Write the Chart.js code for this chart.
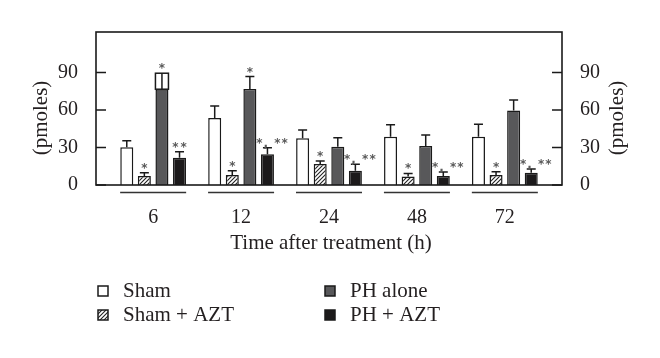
<!DOCTYPE html>
<html><head><meta charset="utf-8">
<script src="https://cdn.jsdelivr.net/npm/chart.js@4"></script>
<style>html,body{margin:0;padding:0;background:#fff}</style>
</head><body>
<canvas id="c" width="660" height="358"></canvas>
<script>
// ---- data ----
const categories = ['6', '12', '24', '48', '72'];
const seriesNames = ['Sham', 'Sham + AZT', 'PH alone', 'PH + AZT'];
const sham      = [30.2, 53.7, 37.4, 38.7, 38.7];
const shamErr   = [5.3, 9.6, 6.7, 9.6, 9.9];
const shamAzt   = [7.2, 8.0, 16.8, 6.9, 8.0];
const shamAztErr= [2.7, 3.5, 2.4, 2.4, 2.7];
const phAlone   = [76.7, 76.9, 30.7, 31.3, 59.6];
const phAloneErr= [12.8, 9.9, 7.2, 8.8, 8.5];
const phAzt     = [21.9, 24.6, 11.5, 7.2, 9.9];
const phAztErr  = [4.8, 5.3, 5.1, 3.2, 2.9];
const shamStars    = ['', '', '', '', ''];
const shamAztStars = ['*', '*', '*', '*', '*'];
const phAloneStars = ['*', '*', '', '', ''];
const phAztStars   = ['**', '*, **', '*, **', '*, **', '*, **'];
const phAloneBoxedErr = [true, false, false, false, false];
const yTicks = [0, 30, 60, 90];
const yTitle = '(pmoles)';
const xTitle = 'Time after treatment (h)';

const FONT = '"Liberation Serif", "Times New Roman", serif';
const TXT = '#231f20';

function hatchPattern() {
  const c = document.createElement('canvas');
  c.width = 4; c.height = 4;
  const g = c.getContext('2d');
  g.fillStyle = '#fff'; g.fillRect(0, 0, 4, 4);
  g.strokeStyle = '#222'; g.lineWidth = 1.1;
  g.beginPath();
  g.moveTo(0, 4); g.lineTo(4, 0);
  g.moveTo(-1, 1); g.lineTo(1, -1);
  g.moveTo(3, 5); g.lineTo(5, 3);
  g.stroke();
  return g.createPattern(c, 'repeat');
}
const hatch = hatchPattern();

const series = [
  { name: seriesNames[0], vals: sham,    err: shamErr,    stars: shamStars,    fill: '#ffffff' },
  { name: seriesNames[1], vals: shamAzt, err: shamAztErr, stars: shamAztStars, fill: hatch },
  { name: seriesNames[2], vals: phAlone, err: phAloneErr, stars: phAloneStars, fill: '#58585a', boxed: phAloneBoxedErr },
  { name: seriesNames[3], vals: phAzt,   err: phAztErr,   stars: phAztStars,   fill: '#1c1a1b' }
];
const legendFills = ['#ffffff', hatch, '#58585a', '#1c1a1b'];

const datasets = series.map(s => ({
  label: s.name,
  data: s.vals.map((v, i) => ({ x: i, y: v })),
  backgroundColor: s.fill,
  borderColor: '#1a1a1a',
  borderWidth: 1.5,
  categoryPercentage: 0.8,
  barPercentage: 0.74
}));

const decor = {
  id: 'decor',
  afterDatasetsDraw(chart) {
    const ctx = chart.ctx, ca = chart.chartArea;
    const ys = chart.scales.y, xs = chart.scales.x;
    ctx.save();
    // error bars + stars
    series.forEach((s, di) => {
      const meta = chart.getDatasetMeta(di);
      meta.data.forEach((bar, i) => {
        const x = bar.x, yb = bar.y, w = bar.width;
        const yt = ys.getPixelForValue(s.vals[i] + s.err[i]);
        ctx.strokeStyle = '#1a1a1a'; ctx.lineWidth = 1.5;
        if (s.boxed && s.boxed[i]) {
          ctx.fillStyle = '#fff';
          ctx.fillRect(x - w / 2, yt, w, yb - yt);
          ctx.strokeRect(x - w / 2, yt, w, yb - yt);
          ctx.beginPath(); ctx.moveTo(x, yt); ctx.lineTo(x, yb); ctx.stroke();
        } else {
          ctx.beginPath();
          ctx.moveTo(x, yb); ctx.lineTo(x, yt);
          ctx.moveTo(x - 4.5, yt); ctx.lineTo(x + 4.5, yt);
          ctx.stroke();
        }
        const st = s.stars[i];
        if (st) {
          ctx.fillStyle = '#5a5a5a';
          ctx.font = 'bold 12px "DejaVu Sans", sans-serif';
          ctx.textAlign = 'center'; ctx.textBaseline = 'alphabetic';
          ctx.letterSpacing = st.length > 2 ? '1px' : '2px';
          const off = st.length > 2 ? 5 : 1;
          ctx.fillText(st, x + off, yt - 1);
          ctx.letterSpacing = '0px';
        }
      });
    });
    // frame
    ctx.strokeStyle = '#1a1a1a'; ctx.lineWidth = 1.6;
    ctx.strokeRect(ca.left, ca.top, ca.right - ca.left, ca.bottom - ca.top);
    // inward ticks
    ctx.lineWidth = 1.5;
    yTicks.forEach(v => {
      const py = ys.getPixelForValue(v);
      ctx.beginPath();
      ctx.moveTo(ca.left, py); ctx.lineTo(ca.left + 10, py);
      ctx.moveTo(ca.right, py); ctx.lineTo(ca.right - 10, py);
      ctx.stroke();
    });
    // group underlines
    ctx.strokeStyle = '#333'; ctx.lineWidth = 1.5;
    categories.forEach((c, i) => {
      const px = xs.getPixelForValue(i);
      ctx.beginPath(); ctx.moveTo(px - 33, 192.5); ctx.lineTo(px + 33, 192.5); ctx.stroke();
    });
    // axis titles
    ctx.fillStyle = TXT;
    ctx.font = '21px ' + FONT;
    ctx.textAlign = 'center'; ctx.textBaseline = 'middle';
    ctx.fillText(xTitle, (ca.left + ca.right) / 2 + 2, 243);
    ctx.save(); ctx.translate(41, 118); ctx.rotate(-Math.PI / 2); ctx.fillText(yTitle, 0, 0); ctx.restore();
    ctx.save(); ctx.translate(617, 118); ctx.rotate(-Math.PI / 2); ctx.fillText(yTitle, 0, 0); ctx.restore();
    // legend
    const pos = [[98, 291], [98, 315], [325, 291], [325, 315]];
    seriesNames.forEach((n, i) => {
      const [bx, by] = pos[i];
      ctx.fillStyle = legendFills[i];
      ctx.fillRect(bx, by - 5, 10, 10);
      ctx.strokeStyle = '#1a1a1a'; ctx.lineWidth = 1.5;
      ctx.strokeRect(bx, by - 5, 10, 10);
      ctx.fillStyle = TXT; ctx.textAlign = 'left'; ctx.textBaseline = 'middle';
      ctx.fillText(n, bx + 25, by);
    });
    ctx.restore();
  }
};

new Chart(document.getElementById('c'), {
  type: 'bar',
  data: { datasets },
  plugins: [decor],
  options: {
    responsive: false,
    animation: false,
    devicePixelRatio: 1,
    layout: { padding: { top: 32, left: 0, right: 0, bottom: 0 } },
    plugins: { legend: { display: false }, tooltip: { enabled: false } },
    scales: {
      x: {
        type: 'linear', position: 'bottom', min: -0.65, max: 4.65, offset: false,
        grid: { display: false, offset: false }, border: { display: false },
        afterBuildTicks: sc => { sc.ticks = categories.map((c, i) => ({ value: i })); },
        afterFit: sc => { sc.height = 173; },
        ticks: { padding: 13, color: TXT, font: { family: FONT, size: 20 }, maxRotation: 0,
                 callback: v => categories[v] }
      },
      y: {
        position: 'left', min: 0, max: 122.5,
        grid: { display: false }, border: { display: false },
        afterBuildTicks: sc => { sc.ticks = yTicks.map(v => ({ value: v })); },
        afterFit: sc => { sc.width = 96; },
        ticks: { padding: 10, color: TXT, font: { family: FONT, size: 20 } }
      },
      y2: {
        position: 'right', min: 0, max: 122.5,
        grid: { display: false }, border: { display: false },
        afterBuildTicks: sc => { sc.ticks = yTicks.map(v => ({ value: v })); },
        afterFit: sc => { sc.width = 98; },
        ticks: { padding: 10, color: TXT, font: { family: FONT, size: 20 } }
      }
    }
  }
});
</script>
</body></html>
